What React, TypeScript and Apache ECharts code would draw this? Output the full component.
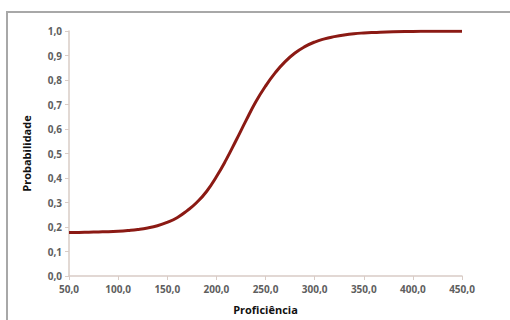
import React, { useEffect, useRef } from "react";
import * as echarts from "echarts";

const proficiencia = [
  50, 60, 70, 80, 90, 100, 110, 120, 130, 140, 150, 160, 170, 180, 190, 200,
  210, 220, 230, 240, 250, 260, 270, 280, 290, 300, 310, 320, 330, 340, 350,
  360, 380, 400, 420, 450,
];
const probabilidade = [
  0.178, 0.178, 0.179, 0.18, 0.181, 0.183, 0.186, 0.19, 0.196, 0.205, 0.219,
  0.238, 0.266, 0.3, 0.345, 0.405, 0.475, 0.553, 0.633, 0.71, 0.775, 0.83,
  0.875, 0.91, 0.936, 0.955, 0.968, 0.977, 0.984, 0.989, 0.992, 0.994, 0.997,
  0.998, 0.999, 0.999,
];
const xTicks = { min: 50, max: 450, interval: 50 };
const yTicks = { min: 0, max: 1, interval: 0.1 };
const xTitle = "Proficiência";
const yTitle = "Probabilidade";

const fmt = (v: number) => v.toFixed(1).replace(".", ",");

export default function App() {
  const ref = useRef<HTMLDivElement>(null);
  useEffect(() => {
    if (!ref.current) return;
    const chart = echarts.init(ref.current, undefined, { renderer: "svg" });
    const axisColor = "#d9ccc6";
    const labelStyle = {
      fontFamily: "Open Sans",
      fontSize: 10,
      fontWeight: "bold" as const,
      color: "#5e5e5e",
    };
    chart.setOption({
      animation: false,
      backgroundColor: "#ffffff",
      grid: { left: 69, right: 48, top: 31, bottom: 42 },
      graphic: [
        {
          type: "rect",
          shape: { x: 7, y: 12, width: 520, height: 330 },
          style: { fill: "none", stroke: "#a8a8a8", lineWidth: 2 },
          silent: true,
        },
      ],
      xAxis: {
        type: "value",
        min: xTicks.min,
        max: xTicks.max,
        interval: xTicks.interval,
        name: xTitle,
        nameLocation: "middle",
        nameGap: 28,
        nameTextStyle: {
          fontFamily: "Open Sans",
          fontSize: 11,
          fontWeight: "bold",
          color: "#111",
        },
        axisLine: { show: true, lineStyle: { color: axisColor, width: 1.5 } },
        axisTick: { show: true, length: 4, lineStyle: { color: axisColor } },
        splitLine: { show: false },
        axisLabel: { ...labelStyle, margin: 8, formatter: fmt },
      },
      yAxis: {
        type: "value",
        min: yTicks.min,
        max: yTicks.max,
        interval: yTicks.interval,
        name: yTitle,
        nameLocation: "middle",
        nameGap: 37,
        nameRotate: 90,
        nameTextStyle: {
          fontFamily: "Open Sans",
          fontSize: 11,
          fontWeight: "bold",
          color: "#111",
        },
        axisLine: { show: true, lineStyle: { color: axisColor, width: 1.5 } },
        axisTick: { show: true, length: 4, lineStyle: { color: axisColor } },
        splitLine: { show: false },
        axisLabel: { ...labelStyle, margin: 7, formatter: fmt },
      },
      series: [
        {
          type: "line",
          data: proficiencia.map((x, i) => [x, probabilidade[i]]),
          smooth: 0.5,
          showSymbol: false,
          lineStyle: { color: "#8b1a14", width: 3 },
        },
      ],
    });
    return () => chart.dispose();
  }, []);
  return (
    <div
      ref={ref}
      style={{ position: "fixed", left: 0, top: 0, width: 510, height: 320 }}
    />
  );
}
